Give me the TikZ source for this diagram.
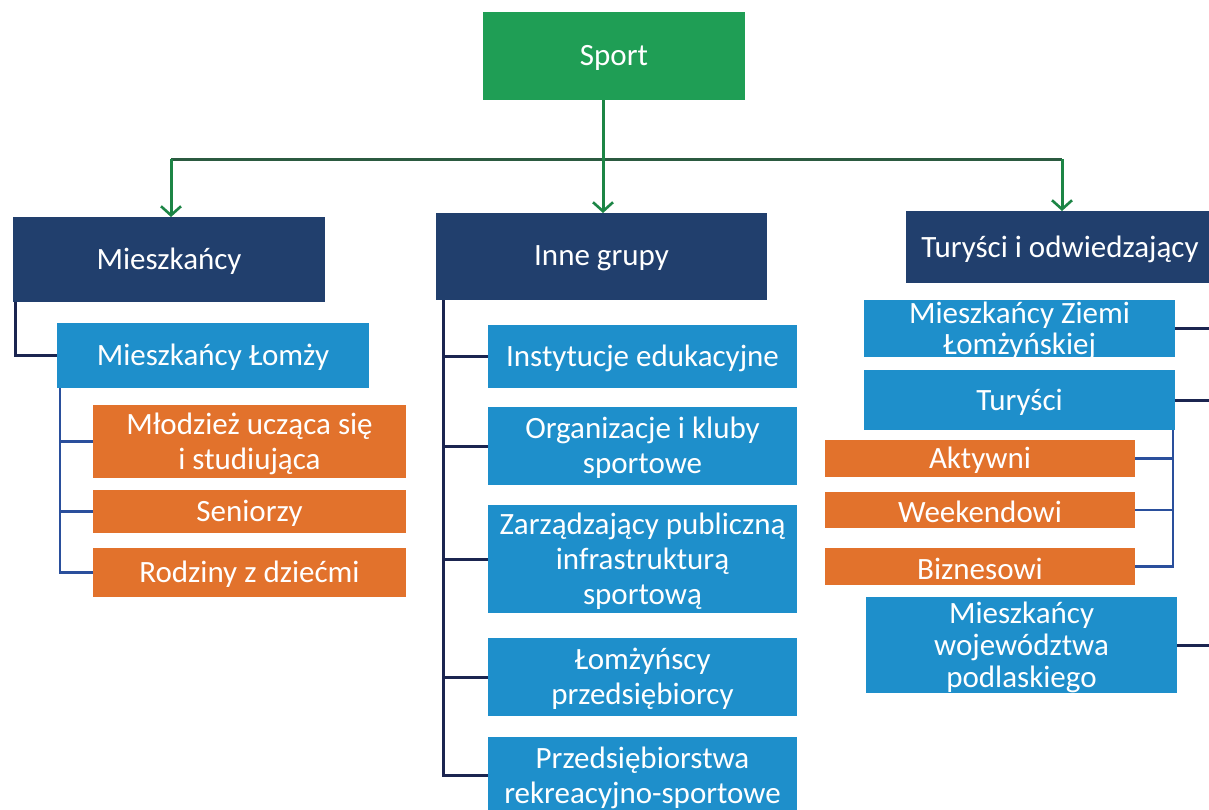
\documentclass[tikz,border=0pt]{standalone}
\usepackage{fontspec}
\setmainfont{Carlito}
\usetikzlibrary{arrows.meta}

\definecolor{sportgreen}{HTML}{1F9E55}
\definecolor{navybox}{HTML}{213F6D}
\definecolor{skyblue}{HTML}{1E8FCB}
\definecolor{orangebox}{HTML}{E2722C}
\definecolor{arrowgreen}{HTML}{1C8545}
\definecolor{busline}{HTML}{2B5A40}
\definecolor{navyline}{HTML}{1B2550}
\definecolor{subline}{HTML}{2A4F9C}

% filled box given by its corners (x1,y1)-(x2,y2) and a centred label
\newcommand{\ubox}[7]{%
  \node[box, fill=#2, minimum width={#5-#3}, minimum height={#6-#4},
        anchor=north west] (#1) at (#3,#4) {};
  \node[lbl] (#1-t) at ([yshift=-2pt]#1.center) {#7};}

\begin{document}
\begin{tikzpicture}[x=1pt, y=-1pt,
  box/.style={rectangle, draw=none, inner sep=0pt, outer sep=0pt},
  lbl/.style={text=white, align=center, inner sep=0pt,
              font=\fontsize{31}{35}\selectfont},
  bus/.style={draw=busline, line width=3pt},
  arr/.style={draw=arrowgreen, line width=3pt,
              -{Straight Barb[length=9pt, width=20pt, line width=2.6pt]}},
  navyconn/.style={draw=navyline, line width=3pt},
  subconn/.style={draw=subline, line width=2.6pt}]

\useasboundingbox (0,0) rectangle (1209,809);
\fill[white] (0,0) rectangle (1209,809);

% ---- top level
\ubox{sport}{sportgreen}{483}{12}{745}{100}{Sport}

% ---- three groups
\ubox{mieszk}{navybox}{13}{217}{325}{302}{Mieszkańcy}
\ubox{inne}{navybox}{436}{213}{767}{300}{Inne grupy}
\ubox{tur}{navybox}{906}{211}{1214}{283}{Turyści i odwiedzający}

% ---- residents
\ubox{lomzy}{skyblue}{57}{323}{369}{388}{Mieszkańcy Łomży}
\ubox{mlodziez}{orangebox}{93}{405}{406}{478}{Młodzież ucząca się\\i studiująca}
\ubox{seniorzy}{orangebox}{93}{490}{406}{533}{Seniorzy}
\ubox{rodziny}{orangebox}{93}{548}{406}{597}{Rodziny z dziećmi}

% ---- other groups
\ubox{inst}{skyblue}{488}{325}{797}{388}{Instytucje edukacyjne}
\ubox{org}{skyblue}{488}{407}{797}{485}{Organizacje i kluby\\sportowe}
\ubox{zarz}{skyblue}{488}{505}{797}{613}{Zarządzający publiczną\\infrastrukturą\\sportową}
\ubox{lomzynscy}{skyblue}{488}{638}{797}{716}{Łomżyńscy\\przedsiębiorcy}
\ubox{przeds}{skyblue}{488}{737}{797}{814}{Przedsiębiorstwa\\rekreacyjno-sportowe}

% ---- tourists and visitors
\ubox{ziemi}{skyblue}{864}{300}{1175}{357}{Mieszkańcy Ziemi\\[-4pt]Łomżyńskiej}
\ubox{turysci}{skyblue}{864}{370}{1175}{430}{Turyści}
\ubox{aktywni}{orangebox}{825}{440}{1135}{477}{Aktywni}
\ubox{weekend}{orangebox}{825}{492}{1135}{528}{Weekendowi}
\ubox{biznes}{orangebox}{825}{548}{1135}{585}{Biznesowi}
\ubox{woj}{skyblue}{866}{597}{1177}{693}{Mieszkańcy\\[-3pt]województwa\\[-3pt]podlaskiego}

% ---- distribution bar and arrows
\coordinate (busL) at (171,159);
\coordinate (busM) at (603,159);
\coordinate (busR) at (1062,159);
\draw[bus] (busL) -- (busR);
\draw[arr] (busM |- sport.south) -- (busM |- inne.north);
\draw[arr] (busL) -- (busL |- mieszk.north);
\draw[arr] (busR) -- (busR |- tur.north);

% ---- residents tree
\coordinate (mv) at (15,302);
\draw[navyconn] (mv) |- (lomzy.west);
\coordinate (lv) at (60,388);
\draw[subconn] (lv) |- (rodziny.west);
\draw[subconn] (lv |- mlodziez.west) -- (mlodziez.west);
\draw[subconn] (lv |- seniorzy.west) -- (seniorzy.west);

% ---- other groups tree
\coordinate (iv) at (443,300);
\draw[navyconn] (iv) |- (przeds.west);
\draw[navyconn] (iv |- inst.west) -- (inst.west);
\draw[navyconn] (iv |- org.west) -- (org.west);
\draw[navyconn] (iv |- zarz.west) -- (zarz.west);
\draw[navyconn] (iv |- lomzynscy.west) -- (lomzynscy.west);

% ---- tourists tree (trunk runs just past the right edge)
\coordinate (rv) at (1214,300);
\draw[navyconn] (ziemi.east) -- (ziemi.east -| rv);
\draw[navyconn] (turysci.east) -- (turysci.east -| rv);
\draw[navyconn] (woj.east) -- (woj.east -| rv);
\coordinate (tv) at (1173,430);
\draw[subconn] (tv) |- (biznes.east);
\draw[subconn] (tv |- aktywni.east) -- (aktywni.east);
\draw[subconn] (tv |- weekend.east) -- (weekend.east);

\end{tikzpicture}
\end{document}
